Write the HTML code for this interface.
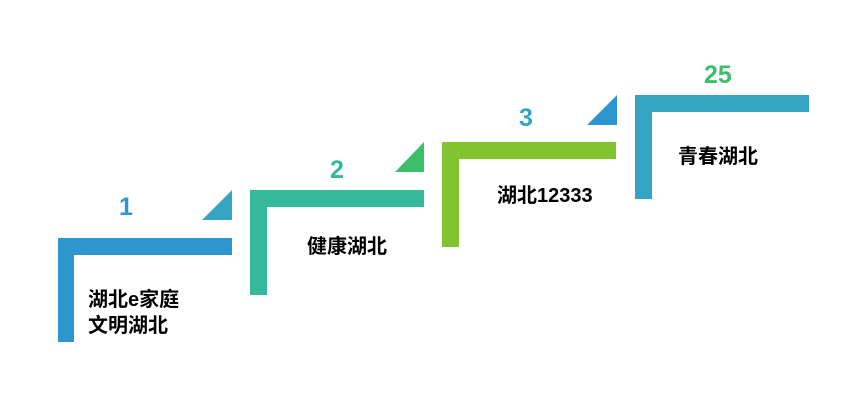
<!DOCTYPE html>
<html><head><meta charset="utf-8"><style>
body{margin:0;width:845px;height:412px;background:#fff;position:relative;overflow:hidden;font-family:"Liberation Sans","Noto Sans CJK SC",sans-serif}
div{position:absolute}
.t{font-weight:bold;font-size:20px;color:#000;line-height:26px;white-space:nowrap}
.n{font-weight:bold;font-size:25px;line-height:28px;white-space:nowrap}
</style></head><body>
<div style="left:58px;top:238px;width:174px;height:17px;background:#2e95cf"></div>
<div style="left:58px;top:238px;width:16px;height:104px;background:#2e95cf"></div>
<div style="left:250px;top:190px;width:174px;height:17px;background:#36b89a"></div>
<div style="left:250px;top:190px;width:17px;height:105px;background:#36b89a"></div>
<div style="left:442px;top:142px;width:174px;height:17px;background:#82c330"></div>
<div style="left:442px;top:142px;width:17px;height:105px;background:#82c330"></div>
<div style="left:635px;top:95px;width:174px;height:17px;background:#33a5c2"></div>
<div style="left:635px;top:95px;width:17px;height:104px;background:#33a5c2"></div>
<svg style="position:absolute;left:0;top:0" width="845" height="412">
<polygon points="232,190 232,220 202,220" fill="#33a5c2"/>
<polygon points="424,142 424,172 395,172" fill="#3bbf6a"/>
<polygon points="617,95 617,125 587,125" fill="#2e95cf"/>
</svg>
<div class="n" style="left:119px;top:193px;color:#2e95cf">1</div>
<div class="n" style="left:330px;top:156px;color:#36b89a">2</div>
<div class="n" style="left:519px;top:104px;color:#33a5c2">3</div>
<div class="n" style="left:704px;top:61px;color:#3bbf6a">25</div>
<div class="t" style="left:88px;top:287px">湖北e家庭<br>文明湖北</div>
<div class="t" style="left:307px;top:234px">健康湖北</div>
<div class="t" style="left:497px;top:183px">湖北12333</div>
<div class="t" style="left:678px;top:144px">青春湖北</div>
</body></html>
